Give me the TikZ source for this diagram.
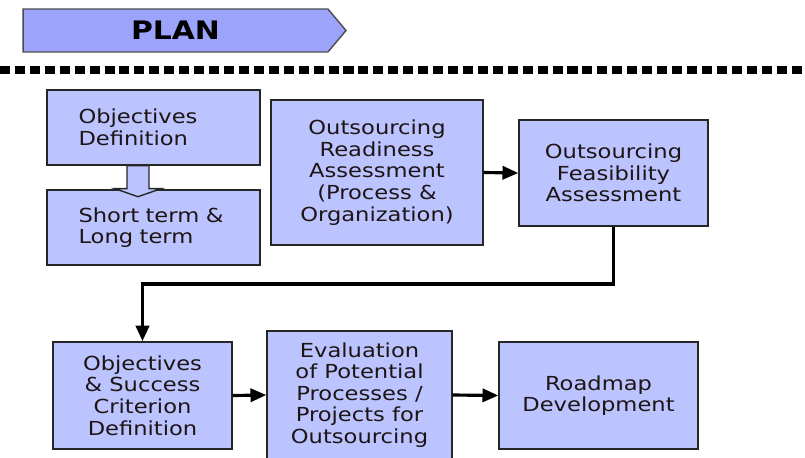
\documentclass[tikz,border=0pt]{standalone}
\usepackage{fontspec}
\setmainfont{DejaVu Sans}
\newfontfamily\boxfont[FakeStretch=1.17]{DejaVu Sans}
\usetikzlibrary{shapes.symbols, arrows.meta, positioning}
\definecolor{planblue}{RGB}{155,163,250}
\definecolor{boxblue}{RGB}{187,196,255}
\definecolor{boxtext}{RGB}{30,20,20}

\begin{document}
\begin{tikzpicture}[x=0.02cm,y=-0.02cm,
 box node/.style={rectangle,draw=black!85,line width=0.8pt,fill=boxblue,
   align=center,inner sep=0pt,text=boxtext,
   font=\boxfont\fontsize{11}{12.3}\selectfont},
 left node/.style={box node,align=left,text width=3.0cm,inner xsep=0.63cm},
 plan node/.style={signal,signal to=east,signal pointer angle=100,
   draw=black!70,line width=0.8pt,fill=planblue,
   minimum width=6.46cm,minimum height=0.86cm,text=black,
   font=\boxfont\bfseries\fontsize{14.5}{16}\selectfont},
 flow line/.style={line width=1.8pt,-{Triangle[length=9pt,width=7.5pt]}},
 sep line/.style={line width=4pt,dash pattern=on 5.7pt off 2.8pt}]
 \useasboundingbox (0,0) rectangle (805,457);

 \node[plan node] (plan) at (175.5,30.5) {PLAN};
 \draw[sep line] (0,70) -- (805,70);

 % first row
 \node[left node,minimum width=4.26cm,minimum height=1.5cm] (objdef) at (153.5,127.5)
   {Objectives\\Definition};
 \node[left node,minimum width=4.26cm,minimum height=1.5cm] (term) at (153.5,227.5)
   {Short term \&\\Long term};
 \node[box node,minimum width=4.24cm,minimum height=2.9cm] (ready) at (377,172.5)
   {Outsourcing\\Readiness\\Assessment\\(Process \&\\Organization)};
 \node[box node,minimum width=3.78cm,minimum height=2.12cm] (feas) at (613.5,173)
   {Outsourcing\\Feasibility\\Assessment};

 % second row
 \node[box node,minimum width=3.58cm,minimum height=2.14cm] (crit) at (142.5,395.5)
   {Objectives\\\& Success\\Criterion\\Definition};
 \node[box node,minimum width=3.7cm,minimum height=2.56cm] (eval) at (359.5,395)
   {Evaluation\\of Potential\\Processes /\\Projects for\\Outsourcing};
 \node[box node,minimum width=3.98cm,minimum height=2.14cm] (road) at (598.5,395.5)
   {Roadmap\\Development};

 \draw[draw=black!85,line width=0.8pt,fill=boxblue] (objdef.south) ++(-26.5,0)
   -- ++(0,23) -- ++(-12,0) -- ++(23,8) -- ++(23,-8) -- ++(-12,0) -- ++(0,-23) -- cycle;

 \foreach \s/\t in {ready/feas, crit/eval, eval/road}{
   \draw[flow line] (\s.east) -- (\t.west);}
 \draw[flow line,line width=2.2pt] (feas.south) -- ++(0,57) -| (crit.north);
\end{tikzpicture}
\end{document}
